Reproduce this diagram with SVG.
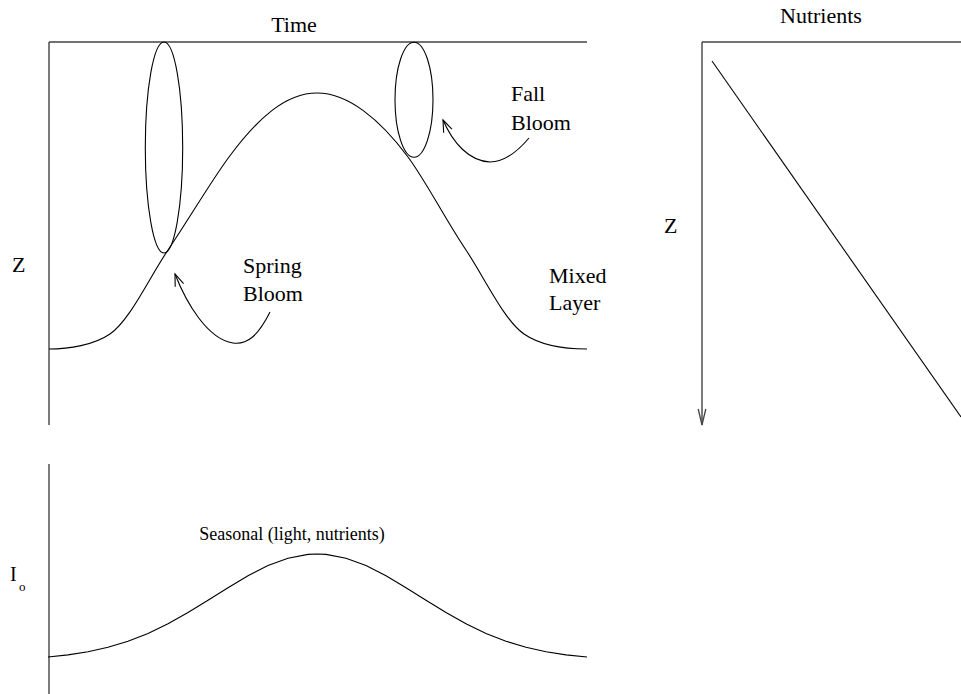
<svg xmlns="http://www.w3.org/2000/svg" width="961" height="694" viewBox="0 0 961 694">
<style>
text{font-family:"Liberation Serif","Times New Roman",serif;fill:#000;font-size:22px}
.axis{stroke:#444;stroke-width:1.4;fill:none}
.curve{stroke:#000;stroke-width:1.1;fill:none}
.conn{stroke:#000;stroke-width:1.1;fill:none}
</style>
<defs>
<marker id="openV" markerUnits="userSpaceOnUse" markerWidth="16" markerHeight="12" refX="13" refY="6" orient="auto">
<path d="M1,1.5 L13,6 L1,10.5" fill="none" stroke="#000" stroke-width="1.1"/>
</marker>
<marker id="axisV" markerUnits="userSpaceOnUse" markerWidth="20" markerHeight="10" refX="17" refY="5" orient="auto">
<path d="M1,1.2 L17,5 L1,8.8" fill="none" stroke="#444" stroke-width="1.3"/>
</marker>
</defs>
<rect width="961" height="694" fill="#fff"/>

<g id="panel-depth-time">
<path class="axis" d="M49,42 L587,42 M49,42 L49,425"/>
<text x="294" y="32" text-anchor="middle">Time</text>
<text x="12" y="272">Z</text>
</g>

<g id="mixed-layer">
<path class="curve" d="M49,349 C69,349 94,345 110,334 C130,320 148.2,279.5 168,250 C188,220.5 211,181.3 229,157 C257,119.2 285,93 317,93 C348,93 380,119.2 408,157 C426,181.3 446,220.5 466,250 C485.5,279.5 504,320 524,334 C540,345 565,349 587,349"/>
<text x="549" y="283">Mixed</text>
<text x="549" y="310">Layer</text>
</g>

<g id="spring-bloom">
<ellipse class="curve" cx="164" cy="147.5" rx="18.7" ry="105.5"/>
<text x="243" y="273">Spring</text>
<text x="243" y="301">Bloom</text>
</g>

<g id="fall-bloom">
<ellipse class="curve" cx="414" cy="99.7" rx="19" ry="57.5"/>
<text x="511" y="101">Fall</text>
<text x="511" y="130">Bloom</text>
</g>

<g id="panel-nutrients">
<path class="axis" d="M702,42 L961,42"/>
<path class="axis" d="M702,42 L702,425" marker-end="url(#axisV)"/>
<path class="curve" d="M712,61 L961,417"/>
<text x="821" y="23" text-anchor="middle">Nutrients</text>
<text x="664" y="233">Z</text>
</g>

<g id="panel-light">
<path class="axis" d="M49,464 L49,694"/>
<path class="curve" d="M48,657 L68,654.9 L88,651.8 L108,647.3 L128,641.2 L148,633.4 L168,623.7 L188,612.5 L208,600.2 L228,587.7 L248,575.7 L268,565.6 L288,558.2 L308,554.4 L317,554 L326,554.4 L346,558.2 L366,565.6 L386,575.7 L406,587.7 L426,600.2 L446,612.5 L466,623.7 L486,633.4 L506,641.2 L526,647.3 L546,651.8 L566,654.9 L587,657"/>
<text x="292" y="540" text-anchor="middle" style="font-size:18px">Seasonal (light, nutrients)</text>
<text x="10" y="581" style="font-size:20px">I</text>
<text x="19" y="591" style="font-size:13px">o</text>
</g>

<g id="connectors">
<path class="conn" d="M270,312 C258,336 247,345 233,343 C207,339 186,302 175,274" marker-end="url(#openV)"/>
<path class="conn" d="M529,138 C518,151 505,162 490,162 C469,161 453,143 443,120" marker-end="url(#openV)"/>
</g>
</svg>
